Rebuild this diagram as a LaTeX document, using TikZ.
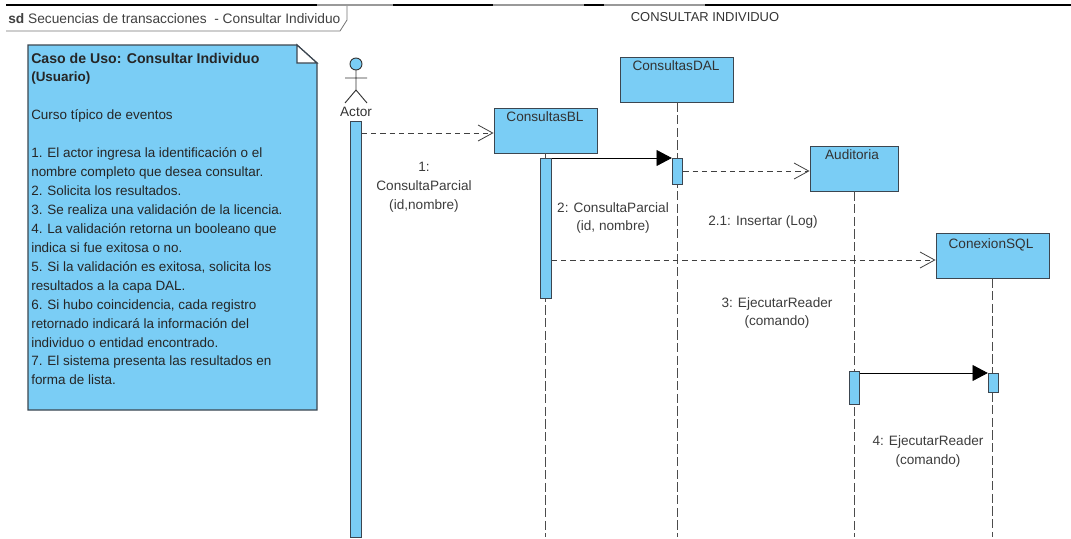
\documentclass[tikz,border=0pt]{standalone}
\usepackage{fontspec}
\setmainfont{Liberation Sans}
\usetikzlibrary{calc,positioning,arrows.meta}
\definecolor{boxfill}{RGB}{122,205,245}
\definecolor{boxline}{RGB}{60,70,80}
\definecolor{msgtext}{RGB}{60,60,60}
\tikzset{
objbox/.style={draw=boxline,fill=boxfill,line width=0.7pt,inner sep=0pt,minimum height=33.75pt},
objtitle/.style={font=\fontsize{10.2}{12}\selectfont,text=black!80,inner sep=0pt,anchor=base},
actbar/.style={draw=boxline,fill=boxfill,line width=0.7pt,inner sep=0pt,minimum width=7.8pt,anchor=north},
lifeline/.style={draw=black!70,line width=0.7pt,dash pattern=on 7pt off 2.5pt},
msgdash/.style={draw=black!75,line width=0.6pt,dash pattern=on 4pt off 3pt,-{Straight Barb[length=11pt,width=12pt,line width=0.6pt]}},
msgsolid/.style={draw=black,line width=0.6pt,-{Triangle[length=11.5pt,width=12pt]}},
msglabel/.style={font=\fontsize{10.2}{14.2}\selectfont,text=msgtext,align=center,inner sep=0pt},
}
\begin{document}
\begin{tikzpicture}[x=0.75pt,y=-0.75pt]
\useasboundingbox (0,0) rectangle (1071,539);
% frame
\draw[black,line width=1pt](6,5)--(1071,5);
\draw[black!40,line width=1pt](317,5)--(393,5);
\draw[black!40,line width=1pt](493,5)--(584,5);
\draw[black!40,line width=1pt](604,5)--(705,5);
\draw[black!55,line width=0.6pt](6,31)--(340,31)--(347,20)--(347,6);
\node[font=\fontsize{10.3}{12}\selectfont,text=black!75,anchor=base west,inner sep=0pt](frametitle)at(8,23.5){\textbf{sd} Secuencias de transacciones\ \ - Consultar Individuo};
\node[font=\fontsize{9.7}{12}\selectfont,text=black!80,inner sep=0pt](diagtitle)at(705,17){CONSULTAR INDIVIDUO};
% note
\filldraw[fill=boxfill,draw=boxline,line width=0.9pt](28,45)--(297,45)--(317,63)--(317,410)--(28,410)--cycle;
\filldraw[fill=white,draw=boxline,line width=0.9pt](297,45)--(317,63)--(297,63)--cycle;
\node[font=\fontsize{10.1}{14.2}\selectfont,text=black!85,align=left,anchor=north west,inner sep=0pt](notetext)at(31,52.5){%
\fontsize{10.6}{14.2}\selectfont\textbf{Caso de Uso: Consultar Individuo}\\
\textbf{(Usuario)}\\[14.2pt]
\fontsize{10.1}{14.2}\selectfont Curso típico de eventos\\[14.2pt]
1. El actor ingresa la identificación o el\\
nombre completo que desea consultar.\\
2. Solicita los resultados.\\
3. Se realiza una validación de la licencia.\\
4. La validación retorna un booleano que\\
indica si fue exitosa o no.\\
5. Si la validación es exitosa, solicita los\\
resultados a la capa DAL.\\
6. Si hubo coincidencia, cada registro\\
retornado indicará la información del\\
individuo o entidad encontrado.\\
7. El sistema presenta las resultados en\\
forma de lista.};
% actor
\coordinate(bottom)at(0,537);
\draw[fill=boxfill,draw=black!80,line width=0.7pt](356,64)circle(6);
\draw[draw=black!80,line width=0.7pt](356,70)--(356,90)(345,78)--(367,78)(345,103)--(356,90)--(367,103);
\node[objtitle](actor)at(356,116.5){Actor};
% objects
\node[objbox,minimum width=77.25pt](bl)at(545.5,130.5){};
\node[objbox,minimum width=84.75pt](dal)at(677,79.5){};
\node[objbox,minimum width=66pt](aud)at(854,168.5){};
\node[objbox,minimum width=84.75pt](sql)at(992.5,255.5){};
\node[objtitle]at(545,121.5){ConsultasBL};
\node[objtitle]at(676,70.5){ConsultasDAL};
\node[objtitle]at(852,159.5){Auditoria};
\node[objtitle]at(991,248.5){ConexionSQL};
% lifelines
\draw[lifeline](bl.south)--(bl.south|-bottom);
\draw[lifeline](dal.south)--(dal.south|-bottom);
\draw[lifeline](aud.south)--(aud.south|-bottom);
\draw[lifeline](sql.south)--(sql.south|-bottom);
% bars
\node[actbar,minimum height=312pt](baract)at(356,121){};
\node[actbar,minimum height=105pt](barbl)at(546,158){};
\node[actbar,minimum height=19.5pt](bardal)at(677.5,158){};
\node[actbar,minimum height=24.75pt](baraud)at(854.5,371){};
\node[actbar,minimum height=14.25pt](barsql)at(993.5,373){};
% messages
\coordinate(m1)at(0,133);
\coordinate(m2)at(0,158);
\coordinate(m3)at(0,171);
\coordinate(m4)at(0,260);
\coordinate(m5)at(0,373);
\draw[msgdash](baract.east|-m1)--(bl.west|-m1);
\draw[msgsolid](barbl.east|-m2)--(bardal.west|-m2);
\draw[msgdash](bardal.east|-m3)--(aud.west|-m3);
\draw[msgdash](barbl.east|-m4)--(sql.west|-m4);
\draw[msgsolid](baraud.east|-m5)--(barsql.west|-m5);
% labels
\node[msglabel](l1)at(424,187){1:\\ConsultaParcial\\(id,nombre)};
\node[msglabel](l2)at(613,218){2: ConsultaParcial\\(id, nombre)};
\node[msglabel](l21)at(763,221.5){2.1: Insertar (Log)};
\node[msglabel](l3)at(777,313){3: EjecutarReader\\(comando)};
\node[msglabel](l4)at(928,451.5){4: EjecutarReader\\(comando)};
\end{tikzpicture}
\end{document}
